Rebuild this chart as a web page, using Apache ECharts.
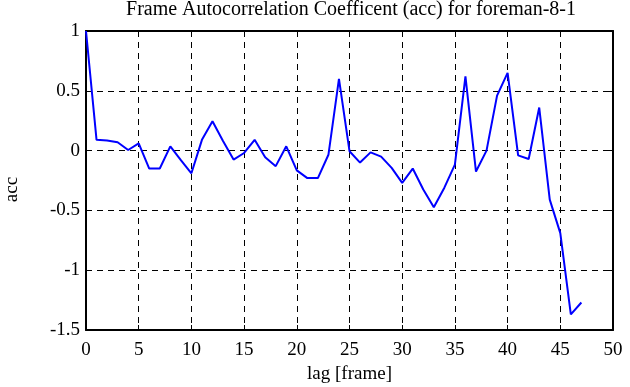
<!DOCTYPE html>
<html>
<head>
<meta charset="utf-8">
<script src="https://cdn.jsdelivr.net/npm/echarts@6/dist/echarts.min.js"></script>
<style>
  html, body { margin: 0; padding: 0; background: #fff; }
  #chart { width: 630px; height: 387px; }
</style>
</head>
<body>
<div id="chart"></div>
<script>
  // Autocorrelation values, lag 0..47
  const lags = [];
  for (let i = 0; i <= 47; i++) lags.push(i);
  const acc = [
    1.0, 0.09, 0.085, 0.07, 0.005, 0.06, -0.15, -0.15, 0.035, -0.08,
    -0.19, 0.09, 0.245, 0.08, -0.075, -0.02, 0.09, -0.056, -0.13, 0.036,
    -0.165, -0.23, -0.23, -0.035, 0.6, -0.005, -0.1, -0.015, -0.05, -0.145,
    -0.27, -0.15, -0.325, -0.474, -0.31, -0.117, 0.62, -0.175, 0.0, 0.46,
    0.65, -0.04, -0.07, 0.36, -0.41, -0.69, -1.37, -1.27
  ];

  const font = 'Liberation Serif';
  const points = lags.map((x, i) => [x, acc[i]]);

  const chart = echarts.init(document.getElementById('chart'));
  const axisCommon = {
    axisLine: { show: true, onZero: false, lineStyle: { color: '#000', width: 2 } },
    axisTick: { show: true, inside: true, length: 5, lineStyle: { color: '#000', width: 1 } }
  };
  chart.setOption({
    animation: false,
    title: {
      text: 'Frame Autocorrelation Coefficent (acc) for foreman-8-1',
      left: 351, top: 0, padding: 0, textAlign: 'center',
      textStyle: { fontFamily: font, fontWeight: 'normal', fontSize: 20, color: '#000' }
    },
    grid: { left: 86, right: 17, top: 31, bottom: 57, containLabel: false, outerBoundsMode: 'none' },
    xAxis: [{
      type: 'value', min: 0, max: 50, interval: 5, position: 'bottom',
      name: 'lag [frame]', nameLocation: 'middle', nameGap: 35,
      nameTextStyle: { fontFamily: font, fontSize: 19, color: '#000' },
      ...axisCommon,
      axisLabel: { fontFamily: font, fontSize: 19, color: '#000', margin: 11 },
      splitLine: { show: true, lineStyle: { color: '#000', type: [6, 5], width: 1 } }
    }, {
      type: 'value', min: 0, max: 50, interval: 5, position: 'top',
      ...axisCommon, axisLabel: { show: false }, splitLine: { show: false }
    }],
    yAxis: [{
      type: 'value', min: -1.5, max: 1, interval: 0.5, position: 'left',
      name: 'acc', nameLocation: 'middle', nameGap: 64, nameRotate: 90,
      nameTextStyle: { fontFamily: font, fontSize: 19, color: '#000', padding: [0, 18, 0, 0] },
      ...axisCommon,
      axisLabel: { fontFamily: font, fontSize: 19, color: '#000', margin: 6 },
      splitLine: { show: true, lineStyle: { color: '#000', type: [6, 5], width: 1 } }
    }, {
      type: 'value', min: -1.5, max: 1, interval: 0.5, position: 'right',
      ...axisCommon, axisLabel: { show: false }, splitLine: { show: false }
    }],
    series: [{
      type: 'line', data: points, showSymbol: false, symbol: 'none',
      lineStyle: { color: '#0000ff', width: 2 }, clip: false
    }]
  });
</script>
</body>
</html>
